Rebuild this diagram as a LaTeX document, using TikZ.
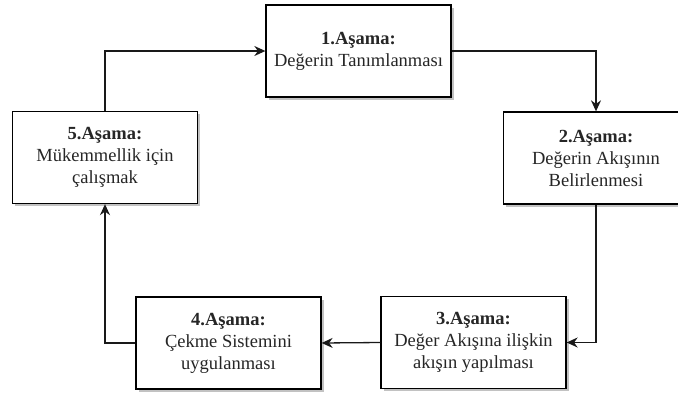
\documentclass[tikz,border=0pt]{standalone}
\usepackage{fontspec}
\setmainfont{Liberation Serif}
\usetikzlibrary{arrows.meta,shadows}
\begin{document}
\begin{tikzpicture}[x=1pt,y=-1pt,
  stage/.style={draw=black,line width=1.3pt,fill=white,minimum width=185pt,minimum height=92pt,inner sep=0pt,
    align=center,text=black!85,font=\fontsize{18.5}{22}\selectfont,
    drop shadow={shadow xshift=2.5pt,shadow yshift=-2.5pt,fill=black!40,opacity=0.6}},
  conn/.style={line width=1.3pt,draw=black!90,-{Stealth[length=11pt,width=10pt]}}]
\useasboundingbox (0,0) rectangle (678,397);
\clip (0,0) rectangle (678,397);
\node[stage] (s1) at (358.5,51) {\textbf{1.Aşama:}\\Değerin Tanımlanması};
\node[stage] (s2) at (596,158) {\textbf{2.Aşama:}\\Değerin Akışının\\Belirlenmesi};
\node[stage] (s3) at (473.5,342.5) {\textbf{3.Aşama:}\\Değer Akışına ilişkin\\akışın yapılması};
\node[stage] (s4) at (228.5,343) {\textbf{4.Aşama:}\\Çekme Sistemini\\uygulanması};
\node[stage] (s5) at (105,157.5) {\textbf{5.Aşama:}\\Mükemmellik için\\çalışmak};
\draw[conn] (s5.north) |- (s1.west);
\draw[conn] (s1.east) -| (s2.north);
\draw[conn] (s2.south) |- (s3.east);
\draw[conn] (s3.west) -- (s4.east);
\draw[conn] (s4.west) -| (s5.south);
\end{tikzpicture}
\end{document}
